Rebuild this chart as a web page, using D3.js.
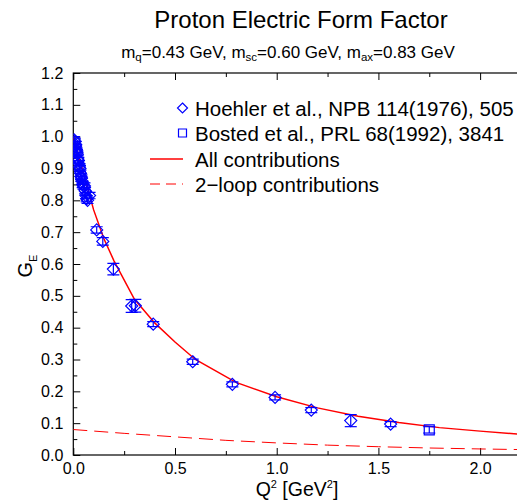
<!DOCTYPE html>
<html>
<head>
<meta charset="utf-8">
<script src="https://cdn.jsdelivr.net/npm/d3@7"></script>
<style>
  body { margin: 0; background: #fff; }
  svg { font-family: "Liberation Sans", Arial, sans-serif; }
</style>
</head>
<body>
<svg id="chart" width="517" height="500"></svg>
<script>
// Hoehler et al. data: Q^2, G_E, error
const hoehlerQ2 = [0.004, 0.008, 0.010, 0.012, 0.014, 0.016, 0.018, 0.020, 0.022, 0.025,
  0.027, 0.030, 0.033, 0.035, 0.038, 0.040, 0.043, 0.046, 0.050, 0.055, 0.058, 0.062,
  0.066, 0.070, 0.080, 0.115, 0.145, 0.197, 0.287, 0.305, 0.393, 0.587, 0.782, 0.992,
  1.17, 1.364, 1.56];
const hoehlerGE = [0.990, 0.985, 0.970, 0.975, 0.960, 0.955, 0.950, 0.945, 0.930, 0.925,
  0.915, 0.905, 0.900, 0.885, 0.875, 0.870, 0.860, 0.850, 0.845, 0.845, 0.830, 0.815,
  0.805, 0.800, 0.815, 0.707, 0.671, 0.584, 0.468, 0.469, 0.411, 0.293, 0.222, 0.181,
  0.141, 0.108, 0.097];
const hoehlerErr = [0.010, 0.010, 0.010, 0.010, 0.010, 0.010, 0.010, 0.010, 0.010, 0.010,
  0.010, 0.010, 0.010, 0.010, 0.010, 0.010, 0.010, 0.010, 0.010, 0.010, 0.010, 0.010,
  0.010, 0.010, 0.010, 0.010, 0.012, 0.018, 0.020, 0.020, 0.008, 0.008, 0.008, 0.008,
  0.008, 0.019, 0.008];

// Bosted et al.
const bostedQ2 = [1.75];
const bostedGE = [0.079];
const bostedErr = [0.010];

// theory curves
const allQ2 = [0, 0.02, 0.05, 0.1, 0.15, 0.2, 0.3, 0.4, 0.5, 0.6, 0.8, 1.0, 1.2, 1.4, 1.6, 1.8, 2.0, 2.2];
const allGE = [1.0, 0.955, 0.885, 0.77, 0.68, 0.61, 0.49, 0.415, 0.355, 0.30, 0.228, 0.183, 0.148, 0.122, 0.102, 0.086, 0.075, 0.065];
const loopQ2 = [0, 0.25, 0.5, 0.75, 1.0, 1.25, 1.5, 1.75, 2.0, 2.2];
const loopGE = [0.080, 0.068, 0.057, 0.046, 0.038, 0.031, 0.026, 0.022, 0.019, 0.017];

const xTicks = [0, 0.5, 1.0, 1.5, 2.0];
const yTicks = [0, 0.1, 0.2, 0.3, 0.4, 0.5, 0.6, 0.7, 0.8, 0.9, 1.0, 1.1, 1.2];

const svg = d3.select('#chart');
const mLeft = 73.3, mTop = 73, mBottom = 455, mRight = 520.8;

const x = d3.scaleLinear().domain([0, 2.2]).range([mLeft, mRight]);
const y = d3.scaleLinear().domain([0, 1.2]).range([mBottom, mTop]);

svg.append('defs').append('clipPath').attr('id', 'clip')
  .append('rect').attr('x', mLeft).attr('y', mTop).attr('width', mRight - mLeft).attr('height', mBottom - mTop);

// frame + inward ticks
const frame = svg.append('g').attr('stroke', '#000').attr('stroke-width', 1.2).attr('fill', 'none');
frame.append('rect').attr('x', mLeft).attr('y', mTop).attr('width', mRight - mLeft).attr('height', mBottom - mTop);

const xAxis = d3.axisBottom(x).tickValues(xTicks).tickSize(-7).tickPadding(8).tickFormat(d3.format('.1f'));
const xMinor = d3.axisBottom(x).tickValues(d3.range(0.25, 2.2, 0.5)).tickSize(-4).tickFormat('');
const yAxis = d3.axisLeft(y).tickValues(yTicks).tickSize(-7).tickPadding(10).tickFormat(d3.format('.1f'));
const yMinor = d3.axisLeft(y).tickValues(d3.range(0.05, 1.2, 0.1)).tickSize(-4).tickFormat('');

function styleAxis(g) {
  g.select('.domain').remove();
  g.selectAll('line').attr('stroke', '#000').attr('stroke-width', 1);
  g.selectAll('text').attr('font-size', 16).attr('fill', '#000');
}
svg.append('g').attr('transform', `translate(0,${mBottom})`).call(xAxis).call(styleAxis);
svg.append('g').attr('transform', `translate(0,${mBottom})`).call(xMinor).call(styleAxis);
svg.append('g').attr('transform', `translate(0,${mTop})`).call(d3.axisTop(x).tickValues(xTicks).tickSize(-7).tickFormat('')).call(styleAxis);
svg.append('g').attr('transform', `translate(0,${mTop})`).call(d3.axisTop(x).tickValues(d3.range(0.25, 2.2, 0.5)).tickSize(-4).tickFormat('')).call(styleAxis);
svg.append('g').attr('transform', `translate(${mLeft},0)`).call(yAxis).call(styleAxis);
svg.append('g').attr('transform', `translate(${mLeft},0)`).call(yMinor).call(styleAxis);

const plot = svg.append('g').attr('clip-path', 'url(#clip)');

// curves
const line = d3.line().x(d => x(d[0])).y(d => y(d[1]));
plot.append('path')
  .datum(allQ2.map((q, i) => [q, allGE[i]]))
  .attr('d', line).attr('fill', 'none').attr('stroke', '#ff0000').attr('stroke-width', 1.5);
plot.append('path')
  .datum(loopQ2.map((q, i) => [q, loopGE[i]]))
  .attr('d', line).attr('fill', 'none').attr('stroke', '#ff0000').attr('stroke-width', 1)
  .attr('stroke-dasharray', '14,7');

// data points
const blue = '#0000ff';
const diamond = (cx, cy, r) => `M${cx},${cy - r}L${cx + r},${cy}L${cx},${cy + r}L${cx - r},${cy}Z`;
const square = (cx, cy, r) => `M${cx - r},${cy - r}h${2 * r}v${2 * r}h${-2 * r}Z`;

function drawPoints(q2, ge, err, shape) {
  const pts = q2.map((q, i) => ({ q, g: ge[i], e: err[i] }));
  const g = plot.append('g').attr('stroke', blue).attr('fill', 'none').attr('stroke-width', 1.2);
  const pt = g.selectAll('g').data(pts).join('g');
  pt.append('line')
    .attr('x1', d => x(d.q)).attr('x2', d => x(d.q))
    .attr('y1', d => y(d.g - d.e)).attr('y2', d => y(d.g + d.e));
  pt.append('line')
    .attr('x1', d => x(d.q) - 6).attr('x2', d => x(d.q) + 6)
    .attr('y1', d => y(d.g - d.e)).attr('y2', d => y(d.g - d.e));
  pt.append('line')
    .attr('x1', d => x(d.q) - 6).attr('x2', d => x(d.q) + 6)
    .attr('y1', d => y(d.g + d.e)).attr('y2', d => y(d.g + d.e));
  pt.append('path').attr('d', d => shape(x(d.q), y(d.g), 6));
}
drawPoints(hoehlerQ2, hoehlerGE, hoehlerErr, diamond);
drawPoints(bostedQ2, bostedGE, bostedErr, (cx, cy) => square(cx, cy, 5));

// titles
svg.append('text').attr('x', 301).attr('y', 28).attr('text-anchor', 'middle')
  .attr('font-size', 24).text('Proton Electric Form Factor');

const sub = svg.append('text').attr('x', 288).attr('y', 58).attr('text-anchor', 'middle').attr('font-size', 17);
sub.append('tspan').text('m');
sub.append('tspan').attr('font-size', 11.5).attr('dy', 3).text('q');
sub.append('tspan').attr('dy', -3).text('=0.43 GeV, m');
sub.append('tspan').attr('font-size', 11.5).attr('dy', 3).text('sc');
sub.append('tspan').attr('dy', -3).text('=0.60 GeV, m');
sub.append('tspan').attr('font-size', 11.5).attr('dy', 3).text('ax');
sub.append('tspan').attr('dy', -3).text('=0.83 GeV');

// axis labels
const xl = svg.append('text').attr('x', 297).attr('y', 496).attr('text-anchor', 'middle').attr('font-size', 19.5);
xl.append('tspan').text('Q');
xl.append('tspan').attr('font-size', 11).attr('dy', -8).text('2');
xl.append('tspan').attr('dy', 8).text(' [GeV');
xl.append('tspan').attr('font-size', 11).attr('dy', -8).text('2');
xl.append('tspan').attr('dy', 8).text(']');

const yl = svg.append('text').attr('transform', 'translate(32,266) rotate(-90)')
  .attr('text-anchor', 'middle').attr('font-size', 20);
yl.append('tspan').text('G');
yl.append('tspan').attr('font-size', 11).attr('dy', 5).text('E');

// legend
const legend = svg.append('g').attr('font-size', 20.5);
const legendRows = [
  { label: 'Hoehler et al., NPB 114(1976), 505', type: 'diamond', y: 108 },
  { label: 'Bosted et al., PRL 68(1992), 3841', type: 'square', y: 133 },
  { label: 'All contributions', type: 'solid', y: 159 },
  { label: '2\u2212loop contributions', type: 'dash', y: 184 }
];
legendRows.forEach(r => {
  if (r.type === 'diamond') {
    legend.append('path').attr('d', diamond(182.5, r.y, 5)).attr('fill', 'none').attr('stroke', blue).attr('stroke-width', 1.2);
  } else if (r.type === 'square') {
    legend.append('path').attr('d', square(182.5, r.y, 4)).attr('fill', 'none').attr('stroke', blue).attr('stroke-width', 1.2);
  } else {
    legend.append('line').attr('x1', 150).attr('x2', 183).attr('y1', r.y).attr('y2', r.y)
      .attr('stroke', '#ff0000').attr('stroke-width', r.type === 'solid' ? 1.5 : 1)
      .attr('stroke-dasharray', r.type === 'dash' ? '10,6' : null);
  }
  legend.append('text').attr('x', 195).attr('y', r.y + 7.5).text(r.label);
});
</script>
</body>
</html>
